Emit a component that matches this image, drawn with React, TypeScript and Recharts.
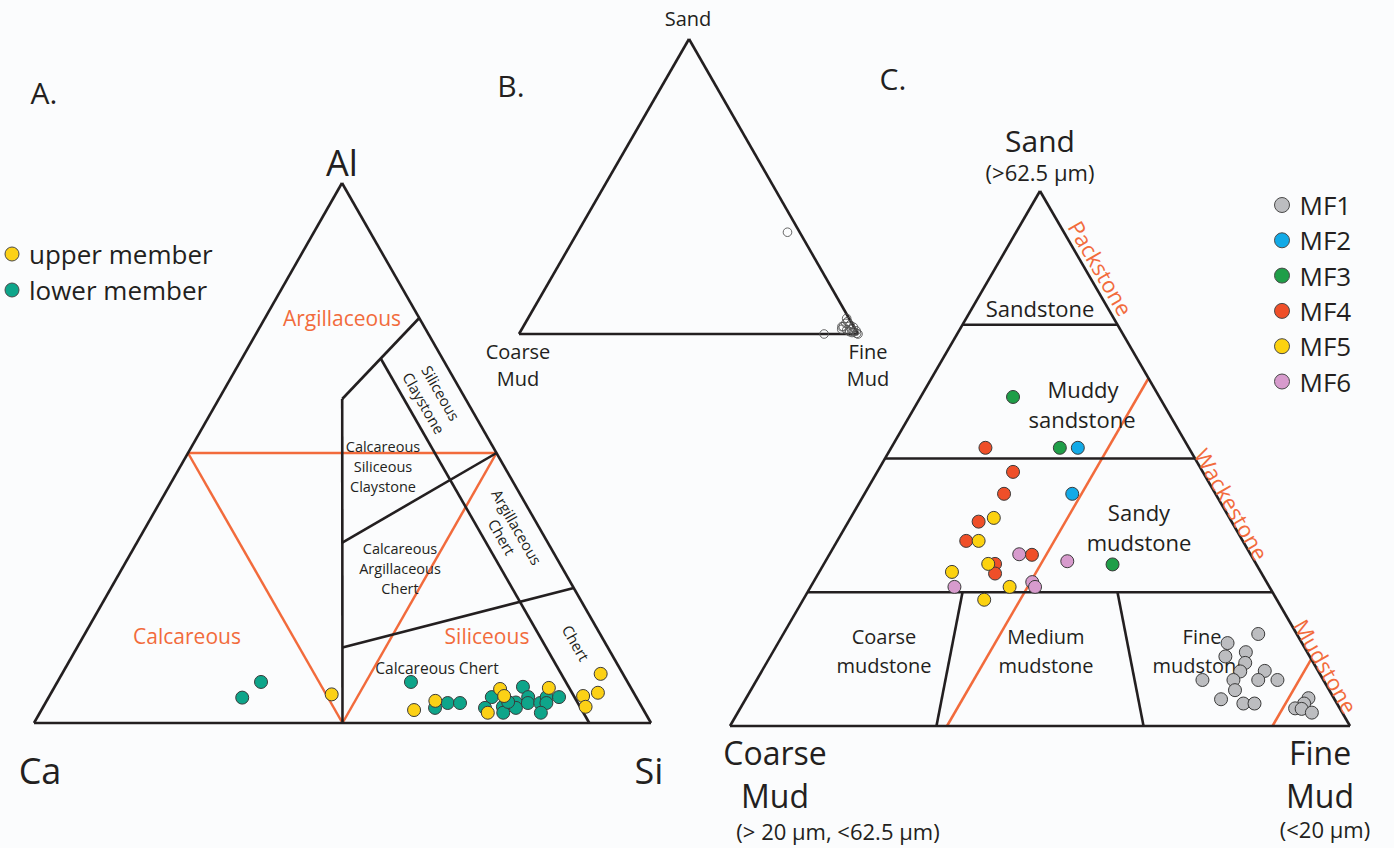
import React from 'react';
import { ScatterChart, Scatter, XAxis, YAxis, ReferenceLine } from 'recharts';

const W = 1394;
const H = 848;
const INK = '#231f20';
const ORANGE = '#f26b3c';
const FONT = '"Open Sans", sans-serif';

// A. Ca-Si-Al composition, in %: [Ca, Si, Al]
const upperMember = [
  [49.1, 45.6, 5.3], [37.2, 60.4, 2.4], [32.9, 63.0, 4.1], [21.3, 72.4, 6.3],
  [13.3, 80.2, 6.5], [21.3, 73.7, 5.0], [25.5, 72.6, 1.9], [8.5, 86.5, 5.0],
  [3.6, 87.3, 9.1], [5.8, 88.6, 5.6], [9.1, 87.9, 3.0],
];
const lowerMember = [
  [63.9, 31.4, 4.7], [59.4, 33.0, 7.6], [35.1, 57.3, 7.6], [33.6, 63.6, 2.8],
  [31.1, 65.2, 3.7], [29.1, 67.2, 3.7], [17.4, 75.9, 6.7], [23.4, 71.8, 4.8],
  [25.5, 71.7, 2.8], [22.5, 74.5, 3.0], [23.0, 75.1, 1.9], [20.0, 76.2, 3.8],
  [20.5, 76.7, 2.8], [17.5, 77.7, 4.8], [18.1, 78.2, 3.7], [16.1, 80.2, 3.7],
  [14.5, 80.7, 4.8], [15.1, 81.2, 3.7], [12.5, 82.7, 4.8], [16.9, 81.2, 1.9],
  [21.2, 74.9, 3.9],
];

// B. all samples, in %: [Sand, Coarse mud, Fine mud]
const allSamples = [
  [34.5, 3.6, 61.9], [0, 10, 90], [5.3, 0.7, 94.0], [2.5, 3.5, 94.0],
  [2.5, 3.1, 94.4], [3.6, 1.8, 94.6], [3.1, 0.8, 96.1], [1.4, 2.6, 96.0],
  [1.6, 1.1, 97.3], [0.8, 0.8, 98.4], [0.2, 0.3, 99.5], [0, 0, 100],
  [1.6, 4.0, 94.4], [2.3, 0.2, 97.5], [0.8, 2.1, 97.1], [1.1, 0, 98.9],
  [4.2, 1.0, 94.8], [0.5, 1.5, 98.0],
];

// C. microfacies, in %: [Sand, Coarse mud, Fine mud]
const mf1 = [
  [17.2, 6.2, 76.6], [15.5, 12.0, 72.5], [13.0, 13.6, 73.4], [13.8, 9.9, 76.3],
  [11.8, 11.0, 77.2], [10.2, 12.6, 77.2], [10.3, 8.6, 81.1], [8.6, 19.5, 71.9],
  [8.6, 14.5, 76.9], [8.6, 10.5, 80.9], [8.6, 7.4, 84.0], [6.7, 15.2, 78.1],
  [5.0, 18.3, 76.7], [4.2, 15.1, 80.7], [4.2, 13.3, 82.5], [5.2, 4.1, 90.7],
  [4.2, 5.3, 90.5], [3.3, 7.2, 89.5], [3.2, 6.2, 90.6], [2.5, 4.9, 92.6],
];
const mf2 = [[52.0, 17.9, 30.1], [43.4, 23.1, 33.5]];
const mf3 = [[61.5, 23.6, 14.9], [52.0, 20.8, 27.2], [30.2, 23.2, 46.6]];
const mf4 = [
  [52.0, 32.8, 15.2], [47.5, 30.6, 21.9], [43.4, 34.1, 22.5], [38.2, 40.8, 21.0],
  [34.6, 44.6, 20.8], [32.0, 35.3, 32.7], [30.3, 42.1, 27.6], [28.5, 43.0, 28.5],
];
const mf5 = [
  [38.9, 38.0, 23.1], [34.6, 42.6, 22.8], [30.3, 43.2, 26.5], [28.8, 49.8, 21.4],
  [26.0, 41.9, 32.1], [23.6, 47.2, 29.2],
];
const mf6 = [
  [32.1, 37.3, 30.6], [30.8, 30.2, 39.0], [26.0, 50.8, 23.2], [26.9, 37.8, 35.3],
  [26.0, 37.8, 36.2],
];

const mfNames = ['MF1', 'MF2', 'MF3', 'MF4', 'MF5', 'MF6'];
const mfColors = ['#bcbdc0', '#12aae7', '#1f9e48', '#ef4f29', '#fcd20f', '#d79bcd'];
const mfSeries = [mf1, mf2, mf3, mf4, mf5, mf6];

// class boundaries, A: [Ca, Si, Al]
const boundsA = [
  [[50, 50, 0], [20, 20, 60]],
  [[20, 20, 60], [0, 25, 75]],
  [[10, 22.5, 67.5], [10, 90, 0]],
  [[33.3, 33.3, 33.4], [0, 50, 50]],
  [[43, 43, 14], [0, 75, 25]],
];
const fieldsA = [
  [[50, 0, 50], [0, 50, 50]],
  [[50, 0, 50], [50, 50, 0]],
  [[0, 50, 50], [50, 50, 0]],
];
// class boundaries, C: [Sand, Coarse, Fine]
const boundsC = [
  [[75, 25, 0], [75, 0, 25]],
  [[50, 50, 0], [50, 0, 50]],
  [[25, 75, 0], [25, 0, 75]],
  [[25, 50, 25], [0, 66.7, 33.3]],
  [[25, 25, 50], [0, 33.3, 66.7]],
];
const fieldsC = [
  [[65, 0, 35], [0, 65, 35]],
  [[12.5, 0, 87.5], [0, 12.5, 87.5]],
];

// triangle corners on the page
const triA = { left: [34, 723], right: [651, 723], top: [342, 183] };
const triB = { left: [519, 334], right: [858, 334], top: [689, 39] };
const triC = { left: [730, 726], right: [1350, 726], top: [1040, 191] };

type Tri = { left: number[]; right: number[]; top: number[] };

function place(t: Tri, l: number, r: number, tp: number) {
  const s = l + r + tp;
  return {
    x: (l * t.left[0] + r * t.right[0] + tp * t.top[0]) / s,
    y: (l * t.left[1] + r * t.right[1] + tp * t.top[1]) / s,
  };
}
const ptA = (v: number[]) => place(triA, v[0], v[1], v[2]);
const ptSand = (t: Tri) => (v: number[]) => place(t, v[1], v[2], v[0]);
const ptB = ptSand(triB);
const ptC = ptSand(triC);

const outline = (t: Tri) => [
  [{ x: t.left[0], y: t.left[1] }, { x: t.right[0], y: t.right[1] }],
  [{ x: t.right[0], y: t.right[1] }, { x: t.top[0], y: t.top[1] }],
  [{ x: t.top[0], y: t.top[1] }, { x: t.left[0], y: t.left[1] }],
];

const blackSegs = [
  ...outline(triA),
  ...outline(triB),
  ...outline(triC),
  ...boundsA.map((s) => [ptA(s[0]), ptA(s[1])]),
  ...boundsC.map((s) => [ptC(s[0]), ptC(s[1])]),
];
const orangeSegs = [
  ...fieldsA.map((s) => [ptA(s[0]), ptA(s[1])]),
  ...fieldsC.map((s) => [ptC(s[0]), ptC(s[1])]),
];

type Label = { x: number; y: number; text: string; size: number; color?: string; anchor?: string; rotate?: number };
const labels: Label[] = [
  { x: 44, y: 92, text: 'A.', size: 30 },
  { x: 511, y: 85, text: 'B.', size: 30 },
  { x: 893, y: 78, text: 'C.', size: 30 },
  { x: 342, y: 162, text: 'Al', size: 36 },
  { x: 40, y: 770, text: 'Ca', size: 36 },
  { x: 649, y: 770, text: 'Si', size: 36 },
  { x: 342, y: 318, text: 'Argillaceous', size: 21, color: ORANGE },
  { x: 187, y: 636, text: 'Calcareous', size: 21, color: ORANGE },
  { x: 487, y: 636, text: 'Siliceous', size: 21, color: ORANGE },
  { x: 441, y: 393, text: 'Siliceous', size: 15, rotate: 60 },
  { x: 424, y: 403, text: 'Claystone', size: 15, rotate: 60 },
  { x: 517, y: 527, text: 'Argillaceous', size: 15, rotate: 60 },
  { x: 502, y: 537, text: 'Chert', size: 15, rotate: 60 },
  { x: 576, y: 643, text: 'Chert', size: 15, rotate: 60 },
  { x: 383, y: 446, text: 'Calcareous', size: 14.5 },
  { x: 383, y: 466, text: 'Siliceous', size: 14.5 },
  { x: 383, y: 486, text: 'Claystone', size: 14.5 },
  { x: 400, y: 548, text: 'Calcareous', size: 14.5 },
  { x: 400, y: 568, text: 'Argillaceous', size: 14.5 },
  { x: 400, y: 588, text: 'Chert', size: 14.5 },
  { x: 437, y: 668, text: 'Calcareous Chert', size: 15.5 },
  { x: 688, y: 18, text: 'Sand', size: 20 },
  { x: 518, y: 351, text: 'Coarse', size: 20 },
  { x: 518, y: 378, text: 'Mud', size: 20 },
  { x: 868, y: 351, text: 'Fine', size: 20 },
  { x: 868, y: 378, text: 'Mud', size: 20 },
  { x: 1040, y: 140, text: 'Sand', size: 30 },
  { x: 1040, y: 172, text: '(>62.5 µm)', size: 22 },
  { x: 775, y: 752, text: 'Coarse', size: 32 },
  { x: 775, y: 795, text: 'Mud', size: 32 },
  { x: 838, y: 831, text: '(> 20 µm, <62.5 µm)', size: 22 },
  { x: 1320, y: 752, text: 'Fine', size: 32 },
  { x: 1320, y: 795, text: 'Mud', size: 32 },
  { x: 1325, y: 829, text: '(<20 µm)', size: 22 },
  { x: 1040, y: 308, text: 'Sandstone', size: 22 },
  { x: 1083, y: 389, text: 'Muddy', size: 22 },
  { x: 1082, y: 419, text: 'sandstone', size: 22 },
  { x: 1139, y: 512, text: 'Sandy', size: 22 },
  { x: 1139, y: 542, text: 'mudstone', size: 22 },
  { x: 884, y: 636, text: 'Coarse', size: 20 },
  { x: 884, y: 665, text: 'mudstone', size: 20 },
  { x: 1046, y: 636, text: 'Medium', size: 20 },
  { x: 1046, y: 665, text: 'mudstone', size: 20 },
  { x: 1202, y: 636, text: 'Fine', size: 20 },
  { x: 1200, y: 665, text: 'mudstone', size: 20 },
  { x: 1101, y: 268, text: 'Packstone', size: 22, color: ORANGE, rotate: 60 },
  { x: 1232, y: 504, text: 'Wackestone', size: 22, color: ORANGE, rotate: 60 },
  { x: 1326, y: 666, text: 'Mudstone', size: 22, color: ORANGE, rotate: 60 },
];

type Key = { x: number; y: number; text: string; color: string; size: number; r: number };
const keys: Key[] = [
  { x: 12, y: 254, text: 'upper member', color: '#fcd116', size: 26, r: 7 },
  { x: 12, y: 290, text: 'lower member', color: '#0ea58a', size: 26, r: 7 },
  ...mfNames.map((n, i) => ({ x: 1282, y: 205 + i * 35.3, text: n, color: mfColors[i], size: 26, r: 7.5 })),
];

function TextMark(props: any) {
  const { cx, cy, payload } = props;
  return (
    <text
      x={cx}
      y={cy}
      textAnchor={payload.anchor ?? 'middle'}
      dominantBaseline="central"
      fontSize={payload.size}
      fontFamily={FONT}
      fill={payload.color ?? INK}
      transform={payload.rotate ? `rotate(${payload.rotate} ${cx} ${cy})` : undefined}
    >
      {payload.text}
    </text>
  );
}

function KeyMark(props: any) {
  const { cx, cy, payload } = props;
  return (
    <g>
      <circle cx={cx} cy={cy} r={payload.r} fill={payload.color} stroke="#4a4a4a" strokeWidth={1} />
      <text x={cx + payload.r + 10} y={cy} dominantBaseline="central" fontSize={payload.size} fontFamily={FONT} fill={INK}>
        {payload.text}
      </text>
    </g>
  );
}

const dot = (fill: string) => (props: any) => (
  <circle cx={props.cx} cy={props.cy} r={6.5} fill={fill} stroke="#3a3a3a" strokeWidth={1} />
);
const ring = (props: any) => (
  <circle cx={props.cx} cy={props.cy} r={4.3} fill="none" stroke="#555" strokeWidth={0.9} />
);

export default function App() {
  return (
    <div style={{ position: 'absolute', left: 0, top: 0, width: W, height: H, background: '#fbfcfd' }}>
      <ScatterChart width={W} height={H} margin={{ top: 0, right: 0, bottom: 0, left: 0 }}>
        <XAxis type="number" dataKey="x" domain={[0, W]} allowDataOverflow hide />
        <YAxis type="number" dataKey="y" domain={[0, H]} allowDataOverflow reversed hide />
        {orangeSegs.map((s, i) => (
          <ReferenceLine key={`o${i}`} segment={s} stroke={ORANGE} strokeWidth={2.5} ifOverflow="visible" />
        ))}
        {blackSegs.map((s, i) => (
          <ReferenceLine key={`b${i}`} segment={s} stroke={INK} strokeWidth={2.6} ifOverflow="visible" />
        ))}
        <Scatter data={labels} shape={TextMark} isAnimationActive={false} />
        <Scatter data={keys} shape={KeyMark} isAnimationActive={false} />
        <Scatter data={lowerMember.map(ptA)} shape={dot('#0ea58a')} isAnimationActive={false} />
        <Scatter data={upperMember.map(ptA)} shape={dot('#fcd116')} isAnimationActive={false} />
        <Scatter data={allSamples.map(ptB)} shape={ring} isAnimationActive={false} />
        {mfSeries.map((d, i) => (
          <Scatter key={mfNames[i]} data={d.map(ptC)} shape={dot(mfColors[i])} isAnimationActive={false} />
        ))}
      </ScatterChart>
    </div>
  );
}
